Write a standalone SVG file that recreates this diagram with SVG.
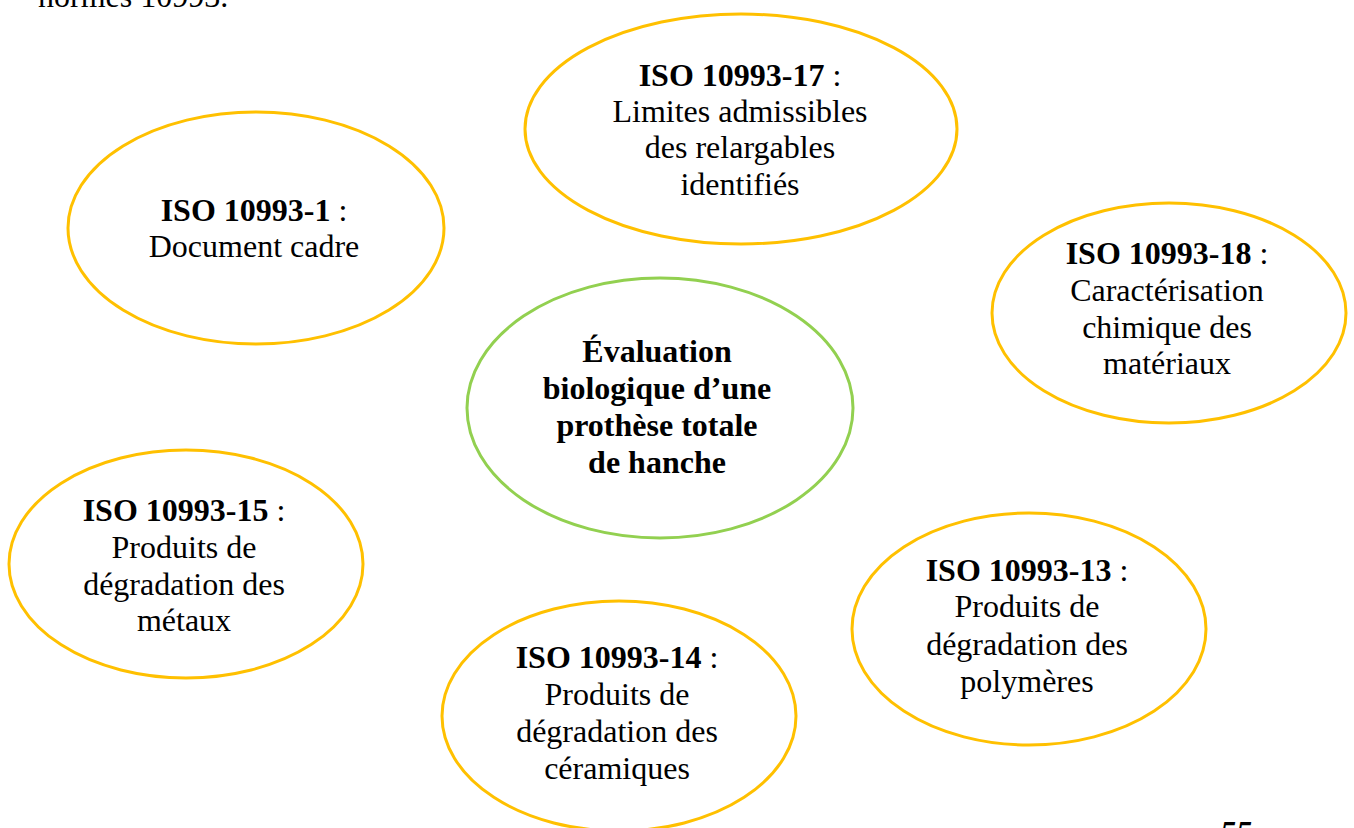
<svg xmlns="http://www.w3.org/2000/svg" width="1354" height="828" viewBox="0 0 1354 828" font-family="'Liberation Serif', Tinos, 'Times New Roman', Times, serif">
<style>
.o{fill:#fff;stroke:#FFC000;stroke-width:3}
.g{fill:#fff;stroke:#92D050;stroke-width:3}
text{font-size:32px;fill:#000;text-anchor:middle}
.b{font-weight:bold}
</style>
<rect width="1354" height="828" fill="#fff"/>
<text x="38" y="7" style="text-anchor:start">normes 10993.</text>
<text x="1220" y="843" class="b" style="text-anchor:start;font-style:italic">55</text>
<g id="connectors"></g>
<g id="n17">
<ellipse class="o" cx="741" cy="129" rx="216" ry="115"/>
<text x="740" y="86"><tspan class="b">ISO 10993-17</tspan> :</text>
<text x="740" y="122">Limites admissibles</text>
<text x="740" y="158">des relargables</text>
<text x="740" y="195">identifiés</text>
</g>
<g id="n1">
<ellipse class="o" cx="256" cy="228" rx="188" ry="116"/>
<text x="254" y="221"><tspan class="b">ISO 10993-1</tspan> :</text>
<text x="254" y="257">Document cadre</text>
</g>
<g id="n18">
<ellipse class="o" cx="1169" cy="313" rx="177" ry="110"/>
<text x="1167" y="264"><tspan class="b">ISO 10993-18</tspan> :</text>
<text x="1167" y="301">Caractérisation</text>
<text x="1167" y="338">chimique des</text>
<text x="1167" y="374">matériaux</text>
</g>
<g id="center">
<ellipse class="g" cx="660" cy="408" rx="193" ry="130"/>
<text x="657" y="362" class="b">Évaluation</text>
<text x="657" y="399" class="b">biologique d’une</text>
<text x="657" y="436" class="b">prothèse totale</text>
<text x="657" y="473" class="b">de hanche</text>
</g>
<g id="n15">
<ellipse class="o" cx="186" cy="564" rx="177" ry="114"/>
<text x="184" y="521"><tspan class="b">ISO 10993-15</tspan> :</text>
<text x="184" y="558">Produits de</text>
<text x="184" y="595">dégradation des</text>
<text x="184" y="631">métaux</text>
</g>
<g id="n14">
<ellipse class="o" cx="619" cy="716" rx="177" ry="115"/>
<text x="617" y="668"><tspan class="b">ISO 10993-14</tspan> :</text>
<text x="617" y="705">Produits de</text>
<text x="617" y="742">dégradation des</text>
<text x="617" y="779">céramiques</text>
</g>
<g id="n13">
<ellipse class="o" cx="1029" cy="629" rx="177" ry="116"/>
<text x="1027" y="581"><tspan class="b">ISO 10993-13</tspan> :</text>
<text x="1027" y="617">Produits de</text>
<text x="1027" y="655">dégradation des</text>
<text x="1027" y="692">polymères</text>
</g>
</svg>
